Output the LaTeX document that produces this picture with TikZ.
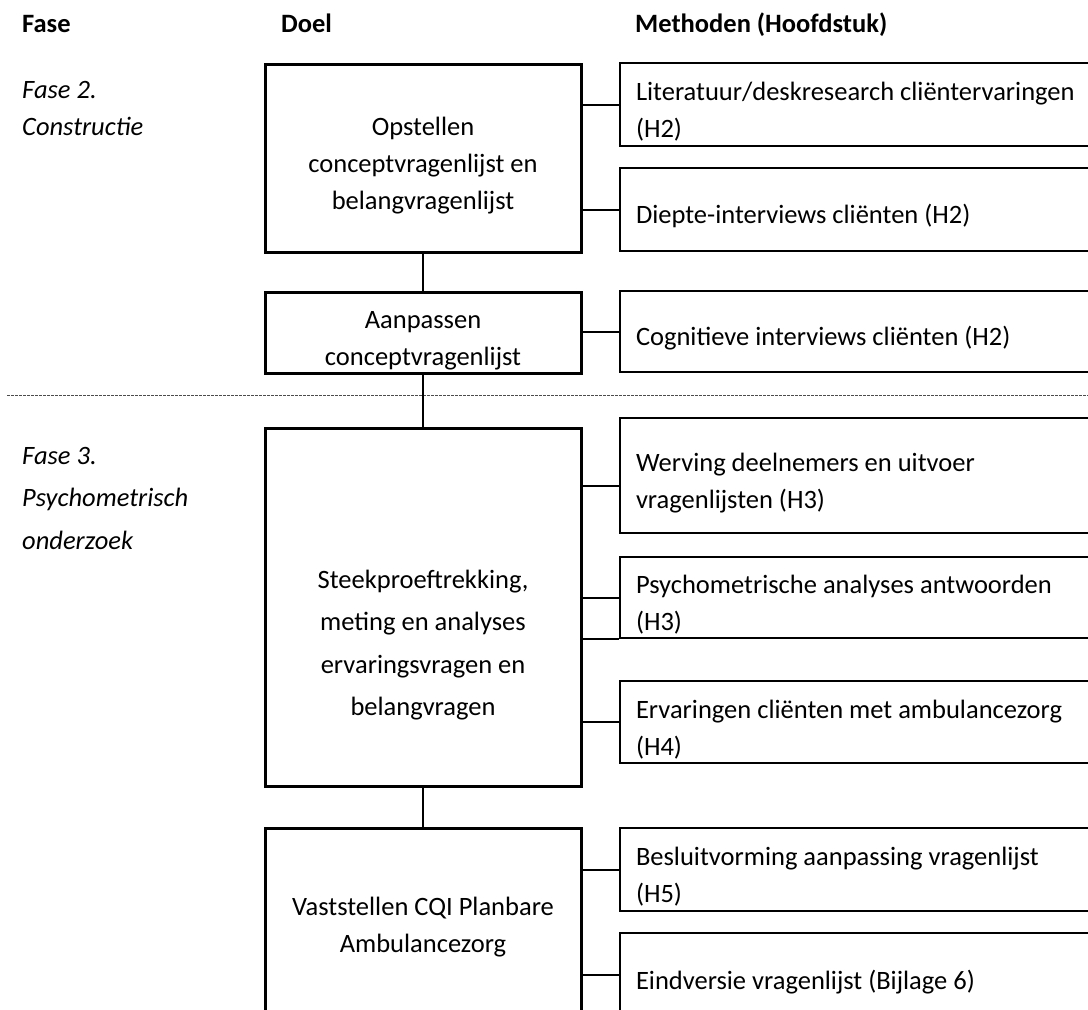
\documentclass[tikz,border=0pt]{standalone}
\usepackage{fontspec}
\setmainfont{Carlito}
\usepackage{tikz}
\newcommand{\tekstmaat}{\fontsize{26.5pt}{37pt}\selectfont}
\newcommand{\tekstruim}{\fontsize{26.5pt}{42.5pt}\selectfont}
\newcommand{\bovenrand}{\rule{0pt}{33pt}}
\tikzset{
    doelbox/.style={rectangle, draw=black, line width=3pt, minimum width=316pt, align=center, inner sep=0pt, font=\tekstmaat},
    methodebox/.style={rectangle, draw=black, line width=2pt, anchor=west, text width=468pt, align=flush left, inner xsep=16pt, inner ysep=0pt, font=\tekstmaat, execute at begin node=\bovenrand},
    kop/.style={anchor=base west, inner sep=0pt, font=\tekstmaat\bfseries},
    fasetekst/.style={anchor=north west, inner sep=0pt, align=flush left, font=\tekstmaat\itshape},
    lijn/.style={line width=2pt},
    scheiding/.style={line width=1pt, black!70, dash pattern=on 3pt off 1pt},
}

\begin{document}
\begin{tikzpicture}[x=1pt, y=-1pt]
  \clip (0,0) rectangle (1088,1010);

  % kopjes
  \node[kop] (kopfase)    at (22,32)  {Fase};
  \node[kop] (kopdoel)    at (281,32) {Doel};
  \node[kop] (kopmethode) at (635,32) {Methoden (Hoofdstuk)};

  % fasen
  \node[fasetekst] (fase2) at (22,81) {Fase 2.\\Constructie};
  \node[fasetekst, font=\tekstruim\itshape] (fase3) at (22,447) {Fase 3.\\Psychometrisch\\onderzoek};

  \draw[scheiding] (7,395) -- (1088,395);

  % doelen
  \node[doelbox, minimum height=188pt] (opstellen)   at (423,158)   {\bovenrand Opstellen\\conceptvragenlijst en\\belangvragenlijst};
  \node[doelbox, minimum height=81pt]  (aanpassen)   at (423,332.5) {\bovenrand Aanpassen\\conceptvragenlijst};
  \node[doelbox, minimum height=358pt] (steekproef)  at (423,607)   {};
  \node[align=center, inner sep=0pt, font=\tekstruim] (steektekst) at (423,645) {Steekproeftrekking,\\meting en analyses\\ervaringsvragen en\\belangvragen};
  \node[doelbox, minimum height=198pt] (vaststellen) at (423,927)   {Vaststellen CQI Planbare\\Ambulancezorg};

  % methoden
  \node[methodebox, minimum height=83pt]  (literatuur)   at (619,104.5) {Literatuur/deskresearch cliëntervaringen\\(H2)};
  \node[methodebox, minimum height=83pt]  (diepte)       at (619,209.5) {Diepte-interviews cliënten (H2)};
  \node[methodebox, minimum height=81pt]  (cognitief)    at (619,331.5) {Cognitieve interviews cliënten (H2)};
  \node[methodebox, minimum height=115pt] (werving)      at (619,475.5) {Werving deelnemers en uitvoer\\vragenlijsten (H3)};
  \node[methodebox, minimum height=81pt]  (psychometrie) at (619,597.5) {Psychometrische analyses antwoorden\\(H3)};
  \node[methodebox, minimum height=82pt]  (ervaringen)   at (619,722)   {Ervaringen cliënten met ambulancezorg\\(H4)};
  \node[methodebox, minimum height=83pt]  (besluit)      at (619,869.5) {Besluitvorming aanpassing vragenlijst\\(H5)};
  \node[methodebox, minimum height=84pt]  (eindversie)   at (619,975)   {Eindversie vragenlijst (Bijlage 6)};

  % verbindingen
  \draw[lijn] (opstellen) -- (aanpassen);
  \draw[lijn] (aanpassen) -- (steekproef);
  \draw[lijn] (steekproef) -- (vaststellen);

  \draw[lijn] (literatuur.west) -- (literatuur.west -| opstellen.east);
  \draw[lijn] (diepte.west) -- (diepte.west -| opstellen.east);
  \draw[lijn] (cognitief.west) -- (cognitief.west -| aanpassen.east);
  \draw[lijn] ([yshift=-10.5pt]werving.west) -- ([yshift=-10.5pt]werving.west -| steekproef.east);
  \draw[lijn] (psychometrie.west) -- (psychometrie.west -| steekproef.east);
  \draw[lijn] (psychometrie.south west) -- (psychometrie.south west -| steekproef.east);
  \draw[lijn] (ervaringen.west) -- (ervaringen.west -| steekproef.east);
  \draw[lijn] (besluit.west) -- (besluit.west -| vaststellen.east);
  \draw[lijn] (eindversie.west) -- (eindversie.west -| vaststellen.east);
\end{tikzpicture}
\end{document}
